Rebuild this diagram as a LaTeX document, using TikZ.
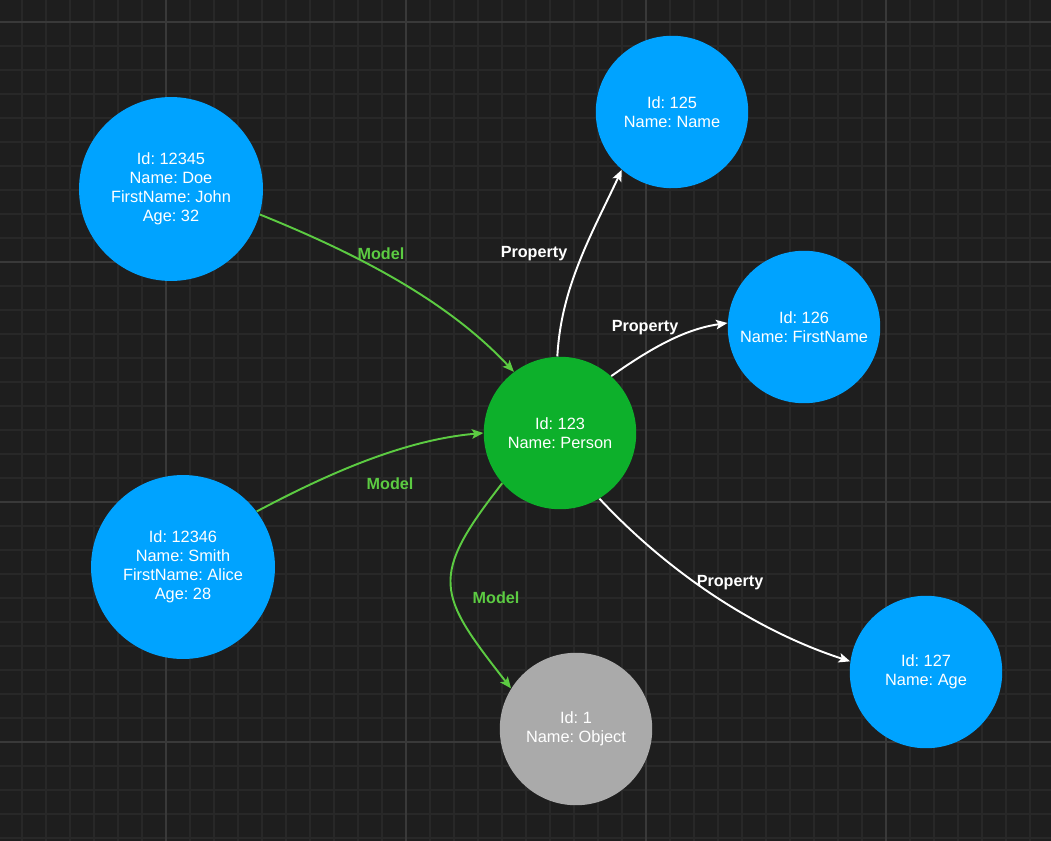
\documentclass[tikz,border=0pt]{standalone}
\usepackage{fontspec}
\setmainfont{Liberation Sans}
\usetikzlibrary{arrows.meta}
\frenchspacing
\definecolor{bg}{HTML}{1E1E1E}
\definecolor{gridminor}{HTML}{282828}
\definecolor{gridmajor}{HTML}{393939}
\definecolor{entblue}{HTML}{00A3FF}
\definecolor{entgreen}{HTML}{0DB02B}
\definecolor{entgray}{HTML}{AAAAAA}
\definecolor{linkgreen}{HTML}{5CCB42}

\begin{document}
\begin{tikzpicture}[x=0.02cm, y=0.02cm,
    ent/.style={circle, inner sep=0pt, text=white, align=center, font=\fontsize{9.3}{10.9}\selectfont},
    big/.style={ent, fill=entblue, minimum size=3.68cm},
    small/.style={ent, minimum size=3.05cm},
    link/.style={line width=1.1pt, -{Stealth[length=6.5pt,width=5.4pt,inset=1.4pt]}},
    model/.style={link, draw=linkgreen},
    prop/.style={link, draw=white},
    lbl/.style={font=\bfseries\fontsize{9.2}{10.9}\selectfont}]
  \useasboundingbox (0,0) rectangle (1051,-841);
  \fill[bg] (0,0) rectangle (1051,-841);
  \foreach \g in {22,46,...,1051} \draw[gridminor, line width=0.6pt] (\g,0) -- (\g,-841);
  \foreach \g in {22,46,...,841} \draw[gridminor, line width=0.6pt] (0,-\g) -- (1051,-\g);
  \foreach \g in {166,406,646,886} \draw[gridmajor, line width=0.9pt] (\g,0) -- (\g,-841);
  \foreach \g in {22,262,502,742} \draw[gridmajor, line width=0.9pt] (0,-\g) -- (1051,-\g);

  \node[big] (doe) at (171,-189) {Id: 12345\\Name: Doe\\FirstName: John\\Age: 32};
  \node[big] (smith) at (183,-567) {Id: 12346\\Name: Smith\\FirstName: Alice\\Age: 28};
  \node[small, fill=entgreen] (person) at (560,-433) {Id: 123\\Name: Person};
  \node[small, fill=entgray] (object) at (576,-729) {Id: 1\\Name: Object};
  \node[small, fill=entblue] (name) at (672,-112) {Id: 125\\Name: Name};
  \node[small, fill=entblue] (first) at (804,-327) {Id: 126\\Name: FirstName};
  \node[small, fill=entblue] (age) at (926,-672) {Id: 127\\Name: Age};

  \draw[model] (doe.-16) .. controls +(-22:100) and +(133:100) .. (person.127);
  \draw[model] (smith.37) .. controls +(28:80) and +(185:80) .. (person.180);
  \draw[model] (person.221) .. controls +(232:120) and +(128:120) .. (object.148);
  \draw[prop] (person.92) .. controls +(87:70) and +(245:70) .. (name.229);
  \draw[prop] (person.48) .. controls +(35:45) and +(188:45) .. (first.177);
  \draw[prop] (person.-59) .. controls +(-47:100) and +(162:100) .. (age.172);

  \node[lbl, text=linkgreen] (m1) at (381,-254) {Model};
  \node[lbl, text=linkgreen] (m2) at (390,-484) {Model};
  \node[lbl, text=linkgreen] (m3) at (496,-598) {Model};
  \node[lbl, text=white] (p1) at (534,-254) {Property};
  \node[lbl, text=white] (p2) at (645,-328) {Property};
  \node[lbl, text=white] (p3) at (730,-583) {Property};
\end{tikzpicture}
\end{document}
